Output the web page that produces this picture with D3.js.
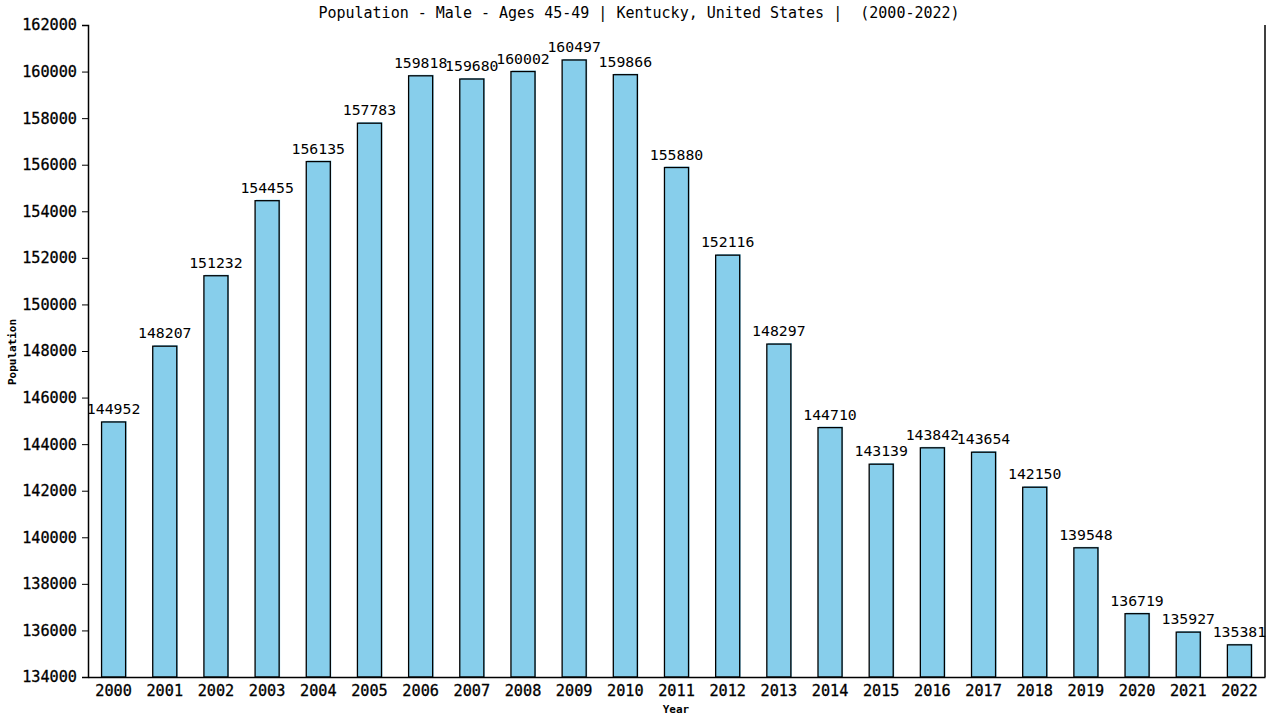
<!DOCTYPE html>
<html>
<head>
<meta charset="utf-8">
<script src="https://cdn.jsdelivr.net/npm/d3@7"></script>
<style>
  body { margin: 0; background: #fff; }
  text { font-family: "DejaVu Sans Mono", "Liberation Mono", monospace; }
</style>
</head>
<body>
<svg id="container" width="1280" height="720"></svg>
<script>
const years = ['2000','2001','2002','2003','2004','2005','2006','2007','2008','2009','2010','2011',
               '2012','2013','2014','2015','2016','2017','2018','2019','2020','2021','2022'];
const population = [144952,148207,151232,154455,156135,157783,159818,159680,160002,160497,159866,155880,
                    152116,148297,144710,143139,143842,143654,142150,139548,136719,135927,135381];
const yTicks = d3.range(134000, 162001, 2000);
const title = 'Population - Male - Ages 45-49 | Kentucky, United States |  (2000-2022)';

const svg = d3.select('#container');
const plotLeft = 88, plotRight = 1265, plotTop = 25, plotBottom = 677;

const x = d3.scaleBand()
    .domain(years)
    .range([plotLeft, plotRight])
    .paddingInner(0.53)
    .paddingOuter(0.265);

const y = d3.scaleLinear()
    .domain([134000, 162000])
    .range([plotBottom, plotTop]);

// bars: light shadow behind, then outlined bar
svg.append('g')
    .selectAll('rect')
    .data(population)
    .enter()
    .append('rect')
    .attr('x', (d, i) => x(years[i]) + 1)
    .attr('y', d => y(d) - 1)
    .attr('width', x.bandwidth())
    .attr('height', d => plotBottom - y(d) + 1)
    .attr('fill', '#87ceeb');

svg.append('g')
    .selectAll('rect')
    .data(population)
    .enter()
    .append('rect')
    .attr('x', (d, i) => x(years[i]))
    .attr('y', d => y(d))
    .attr('width', x.bandwidth())
    .attr('height', d => plotBottom - y(d))
    .attr('fill', '#87ceeb')
    .attr('stroke', 'black')
    .attr('stroke-width', 1.3);

svg.append('g')
    .selectAll('text')
    .data(population)
    .enter()
    .append('text')
    .attr('x', (d, i) => x(years[i]) + x.bandwidth() / 2)
    .attr('y', d => y(d) - 8)
    .attr('text-anchor', 'middle')
    .attr('font-size', 14.8)
    .attr('fill', 'black')
    .text(d => d);

// axes
const yAxis = svg.append('g')
    .attr('transform', `translate(${plotLeft},0)`)
    .call(d3.axisLeft(y).tickValues(yTicks).tickSize(6).tickPadding(5).tickFormat(d3.format('d')));
yAxis.selectAll('text').attr('font-size', 15.2).attr('font-family', '"DejaVu Sans Mono", monospace')
    .attr('stroke', 'black').attr('stroke-width', 0.3);

const xAxis = svg.append('g')
    .attr('transform', `translate(0,${plotBottom})`)
    .call(d3.axisBottom(x).tickSize(0).tickPadding(8));
xAxis.selectAll('text').attr('font-size', 15.2).attr('font-family', '"DejaVu Sans Mono", monospace')
    .attr('stroke', 'black').attr('stroke-width', 0.3);

svg.selectAll('.domain').attr('stroke', 'black').attr('stroke-width', 1.5);
svg.selectAll('.tick line').attr('stroke', 'black');

// right border line
svg.append('line')
    .attr('x1', plotRight).attr('x2', plotRight)
    .attr('y1', plotTop).attr('y2', plotBottom)
    .attr('stroke', 'black')
    .attr('stroke-width', 1.5);

svg.append('text')
    .attr('x', 639)
    .attr('y', 18)
    .attr('text-anchor', 'middle')
    .attr('font-size', 15)
    .style('white-space', 'pre')
    .text(title);

svg.append('text')
    .attr('transform', 'translate(16,352) rotate(-90)')
    .attr('text-anchor', 'middle')
    .attr('font-size', 11)
    .attr('font-weight', 'bold')
    .text('Population');

svg.append('text')
    .attr('x', 676)
    .attr('y', 713)
    .attr('text-anchor', 'middle')
    .attr('font-size', 11)
    .attr('font-weight', 'bold')
    .text('Year');
</script>
</body>
</html>
